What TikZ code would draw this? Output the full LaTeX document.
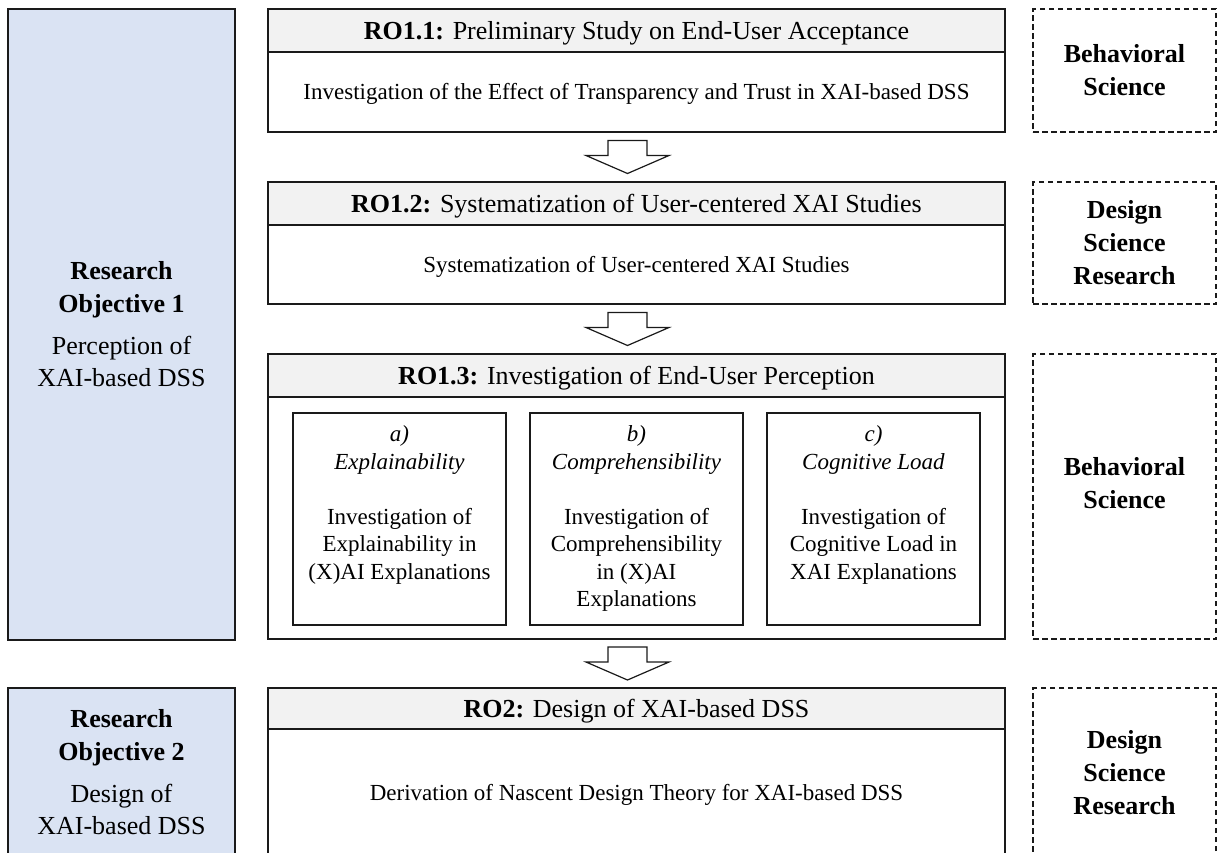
\documentclass[tikz,border=0pt]{standalone}
\usepackage{fontspec}
\setmainfont{Liberation Serif}
\usetikzlibrary{calc}
\definecolor{headfill}{HTML}{F2F2F2}
\definecolor{objfill}{HTML}{DAE3F3}
\definecolor{edge}{HTML}{1A1A1A}
\begin{document}
\begin{tikzpicture}[x=1pt,y=-1pt,
  every node/.style={inner sep=0pt, outer sep=0pt},
  frame/.style={draw=edge, line width=1.4pt, rectangle},
  headbox/.style={frame, fill=headfill, minimum width=737, minimum height=#1,
    text height=17.2pt, text depth=0pt, font=\fontsize{26}{30}\selectfont},
  bodybox/.style={frame, fill=white, minimum width=737, minimum height=#1,
    text height=15.2pt, text depth=0pt, font=\fontsize{23}{27.5}\selectfont},
  objbox/.style={frame, fill=objfill, minimum width=227, minimum height=#1},
  objtext/.style={align=center, font=\fontsize{26}{32.5}\selectfont},
  methodbox/.style={draw=edge, line width=1.2pt, dash pattern=on 5.5pt off 3.5pt,
    rectangle, minimum width=183, minimum height=#1},
  methodtext/.style={align=center, font=\fontsize{26}{33}\selectfont\bfseries},
  subbox/.style={frame, fill=white, minimum width=213, minimum height=212},
  subtext/.style={align=center, anchor=north, font=\fontsize{23}{27.5}\selectfont},
  arrowshape/.style={draw=edge, line width=1.2pt, fill=white, line join=miter},
  flowarrow/.pic={
    \draw[arrowshape] (-19.5,-16.5) -- (19.5,-16.5) -- (19.5,-1.5) -- (41.5,-1.5)
      -- (0,16.5) -- (-41.5,-1.5) -- (-19.5,-1.5) -- cycle;
  }
]
\useasboundingbox (0,0) rectangle (1218,852);

% research objectives (left column)
\node[objbox=631] (obj1) at (121.5,324.5) {};
\node[objtext] (obj1t) at (obj1.center)
  {\textbf{Research}\\\textbf{Objective 1}\\[9.5pt]Perception of\\XAI-based DSS};
\node[objbox=169] (obj2) at (121.5,772.5) {};
\node[objtext] (obj2t) at (obj2.center)
  {\textbf{Research}\\\textbf{Objective 2}\\[9.5pt]Design of\\XAI-based DSS};

% RO1.1
\node[headbox=43] (h11) at (636.5,30.5) {\textbf{RO1.1:} Preliminary Study on End-User Acceptance};
\node[bodybox=80] (b11) at (636.5,92)
  {Investigation of the Effect of Transparency and Trust in XAI-based DSS};

% RO1.2
\node[headbox=43] (h12) at (636.5,203.5) {\textbf{RO1.2:} Systematization of User-centered XAI Studies};
\node[bodybox=79] (b12) at (636.5,264.5) {Systematization of User-centered XAI Studies};

% RO1.3
\node[headbox=43] (h13) at (636.5,375.5) {\textbf{RO1.3:} Investigation of End-User Perception};
\node[bodybox=242] (b13) at (636.5,518) {};
\node[subbox] (sa) at (399.5,519) {};
\node[subbox] (sb) at (636.5,519) {};
\node[subbox] (sc) at (873.5,519) {};
\node[subtext] (sat) at ([yshift=-13]sa.north)
  {\textit{a)}\\\textit{Explainability}\\[27.5pt]Investigation of\\Explainability in\\(X)AI Explanations};
\node[subtext] (sbt) at ([yshift=-13]sb.north)
  {\textit{b)}\\\textit{Comprehensibility}\\[27.5pt]Investigation of\\Comprehensibility\\in (X)AI\\Explanations};
\node[subtext] (sct) at ([yshift=-13]sc.north)
  {\textit{c)}\\\textit{Cognitive Load}\\[27.5pt]Investigation of\\Cognitive Load in\\XAI Explanations};

% RO2
\node[headbox=41] (h2) at (636.5,708.5) {\textbf{RO2:} Design of XAI-based DSS};
\node[bodybox=128] (b2) at (636.5,793) {Derivation of Nascent Design Theory for XAI-based DSS};

% research approaches (right column)
\node[methodbox=123] (m1) at (1124.5,70.5) {};
\node[methodtext] at (m1.center) {Behavioral\\Science};
\node[methodbox=122] (m2) at (1124.5,243) {};
\node[methodtext] at (m2.center) {Design\\Science\\Research};
\node[methodbox=285] (m3) at (1124.5,496.5) {};
\node[methodtext] at ([yshift=13]m3.center) {Behavioral\\Science};
\node[methodbox=169] (m4) at (1124.5,772.5) {};
\node[methodtext] at (m4.center) {Design\\Science\\Research};

% flow between the steps
\pic[xshift=-9] at ($(b11.south)!0.5!(h12.north)$) {flowarrow};
\pic[xshift=-9] at ($(b12.south)!0.5!(h13.north)$) {flowarrow};
\pic[xshift=-9] at ($(b13.south)!0.5!(h2.north)$) {flowarrow};
\end{tikzpicture}
\end{document}
